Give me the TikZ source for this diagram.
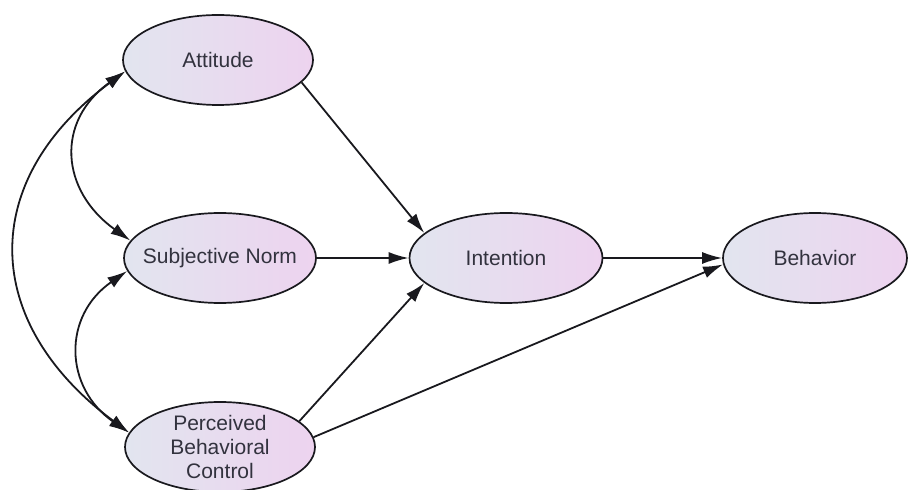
\documentclass[tikz,border=0pt]{standalone}
\usepackage{fontspec}
\setmainfont{Liberation Sans}
\usetikzlibrary{arrows.meta,shapes.geometric}
\definecolor{shadeL}{RGB}{226,229,239}
\definecolor{shadeR}{RGB}{237,211,239}
\definecolor{txt}{RGB}{50,50,62}
\definecolor{edge}{RGB}{25,25,30}
\begin{document}
\begin{tikzpicture}[x=1pt,y=1pt,
  latent/.style={ellipse,draw=edge,line width=1.7pt,left color=shadeL,right color=shadeR,
    minimum height=90pt,inner sep=0pt},
  lbl/.style={text=txt,align=center,inner sep=0pt,font=\fontsize{21}{24}\selectfont},
  path/.style={draw=edge,line width=1.8pt,-{Latex[length=20pt,width=12pt]}},
  cov/.style={draw=edge,line width=1.8pt,{Latex[length=20pt,width=12pt]}-{Latex[length=20pt,width=12pt]}}]
\useasboundingbox (0,0) rectangle (908,490);
\node[latent,minimum width=190pt,label={[lbl]center:Attitude}] (att) at (218,430) {};
\node[latent,minimum width=192pt,label={[lbl]center:Subjective Norm}] (sn) at (220,232) {};
\node[latent,minimum width=190pt,label={[lbl]center:Perceived\\Behavioral\\Control}] (pbc) at (220,43) {};
\node[latent,minimum width=193pt,label={[lbl]center:Intention}] (int) at (506,232) {};
\node[latent,minimum width=184pt,label={[lbl]center:Behavior}] (beh) at (815,232) {};
\draw[path] (att.-15) -- (int.163);
\draw[path] (sn) -- (int);
\draw[path] (pbc.18) -- (int.197);
\draw[path] (int) -- (beh);
\draw[path] (pbc.6) -- (beh.184);
\draw[cov] (att.187) .. controls +(-70,-50) and +(-70,50) .. (sn.169);
\draw[cov] (att.187) .. controls +(-148,-110) and +(-148,110) .. (pbc.171);
\draw[cov] (sn.188) .. controls +(-65,-45) and +(-65,45) .. (pbc.171);
\end{tikzpicture}
\end{document}
